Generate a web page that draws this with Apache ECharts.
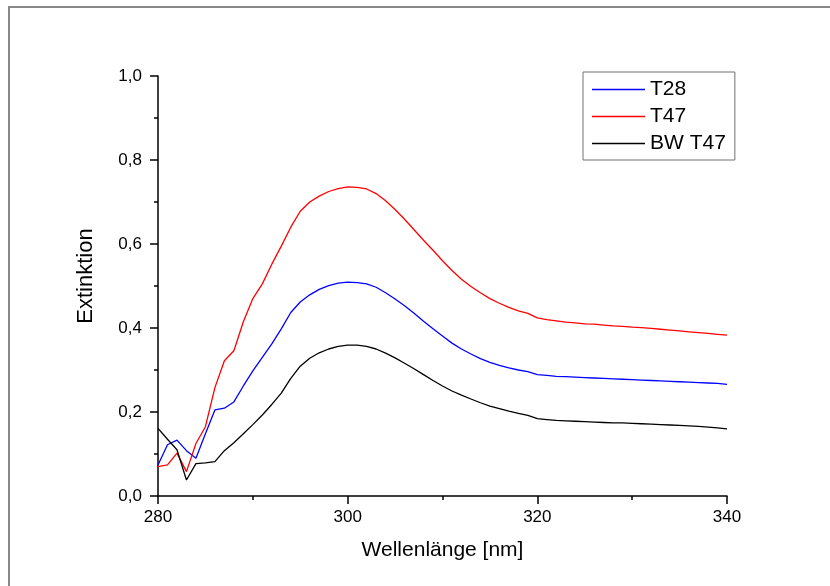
<!DOCTYPE html>
<html>
<head>
<meta charset="utf-8">
<script src="https://cdn.jsdelivr.net/npm/echarts@6/dist/echarts.min.js"></script>
<style>html,body{margin:0;padding:0;background:#fff}#c{width:830px;height:586px}</style>
</head>
<body>
<div id="c"></div>
<script>
var wavelengths = [];
for (var w = 280; w <= 340; w++) wavelengths.push(w);

var t28 = [0.074,0.122,0.133,0.108,0.090,0.148,0.205,0.209,0.224,0.262,
  0.298,0.330,0.362,0.398,0.437,0.462,0.479,0.492,0.501,0.507,
  0.509,0.508,0.505,0.497,0.484,0.469,0.453,0.435,0.416,0.398,
  0.381,0.364,0.350,0.338,0.327,0.318,0.311,0.305,0.300,0.296,
  0.289,0.287,0.285,0.284,0.283,0.282,0.281,0.280,0.279,0.278,
  0.277,0.276,0.275,0.274,0.273,0.272,0.271,0.270,0.269,0.268,0.266];

var t47 = [0.070,0.074,0.102,0.058,0.125,0.165,0.258,0.322,0.346,0.415,
  0.470,0.505,0.552,0.595,0.640,0.678,0.700,0.714,0.725,0.732,
  0.736,0.735,0.731,0.720,0.703,0.682,0.659,0.634,0.609,0.585,
  0.560,0.537,0.516,0.499,0.484,0.470,0.459,0.449,0.441,0.435,
  0.424,0.420,0.417,0.414,0.412,0.410,0.409,0.407,0.405,0.404,
  0.402,0.401,0.399,0.397,0.395,0.393,0.391,0.389,0.387,0.385,0.383];

var bwT47 = [0.161,0.135,0.110,0.038,0.077,0.079,0.082,0.108,0.127,0.148,
  0.170,0.193,0.218,0.245,0.280,0.309,0.328,0.341,0.350,0.356,
  0.359,0.359,0.356,0.350,0.340,0.329,0.316,0.303,0.289,0.275,
  0.262,0.250,0.240,0.231,0.222,0.214,0.208,0.202,0.197,0.192,
  0.184,0.182,0.180,0.179,0.178,0.177,0.176,0.175,0.174,0.174,
  0.173,0.172,0.171,0.170,0.169,0.168,0.167,0.166,0.164,0.162,0.160];

var seriesNames = ['T28', 'T47', 'BW T47'];
var seriesColors = ['#0000ff', '#ff0000', '#000000'];
var seriesValues = [t28, t47, bwT47];

var font = '"Liberation Sans", Arial, sans-serif';

function pairs(vals) {
  return wavelengths.map(function (x, i) { return [x, vals[i]]; });
}

var chart = echarts.init(document.getElementById('c'), null, {renderer: 'canvas'});
chart.setOption({
  animation: false,
  backgroundColor: '#fff',
  textStyle: {fontFamily: font},
  graphic: [{
    type: 'rect',
    shape: {x: 9, y: 7, width: 900, height: 700},
    style: {fill: 'none', stroke: '#888888', lineWidth: 2},
    silent: true
  }],
  grid: {left: 158, right: 103, top: 76, bottom: 90, containLabel: false},
  legend: {
    orient: 'vertical',
    left: 583, top: 72,
    padding: [6, 9, 5, 9],
    icon: 'rect',
    itemWidth: 53, itemHeight: 1.5, itemGap: 4,
    borderColor: '#707070', borderWidth: 1,
    textStyle: {fontSize: 21, color: '#000', fontFamily: font, lineHeight: 23},
    data: seriesNames
  },
  xAxis: {
    type: 'value', min: 280, max: 340, interval: 20,
    name: 'Wellenlänge [nm]', nameLocation: 'middle', nameGap: 44,
    nameTextStyle: {fontSize: 21, color: '#000', fontFamily: font},
    axisLine: {lineStyle: {color: '#000', width: 1.5}},
    axisTick: {length: 8, lineStyle: {color: '#000', width: 1.5}},
    minorTick: {show: true, splitNumber: 2, length: 4, lineStyle: {color: '#000', width: 1.5}},
    axisLabel: {fontSize: 17, color: '#000', margin: 13, fontFamily: font},
    splitLine: {show: false}
  },
  yAxis: {
    type: 'value', min: 0, max: 1, interval: 0.2,
    name: 'Extinktion', nameLocation: 'middle', nameGap: 61,
    nameTextStyle: {fontSize: 22, color: '#000', fontFamily: font, padding: [0, 0, 0, 20]},
    axisLine: {lineStyle: {color: '#000', width: 1.5}},
    axisTick: {length: 8, lineStyle: {color: '#000', width: 1.5}},
    minorTick: {show: true, splitNumber: 2, length: 4, lineStyle: {color: '#000', width: 1.5}},
    axisLabel: {fontSize: 17, color: '#000', margin: 16, fontFamily: font,
      formatter: function (v) { return v.toFixed(1).replace('.', ','); }},
    splitLine: {show: false}
  },
  series: seriesNames.map(function (n, i) {
    return {
      name: n, type: 'line', symbol: 'none', data: pairs(seriesValues[i]),
      lineStyle: {color: seriesColors[i], width: 1.3},
      itemStyle: {color: seriesColors[i]}
    };
  })
});
</script>
</body>
</html>
